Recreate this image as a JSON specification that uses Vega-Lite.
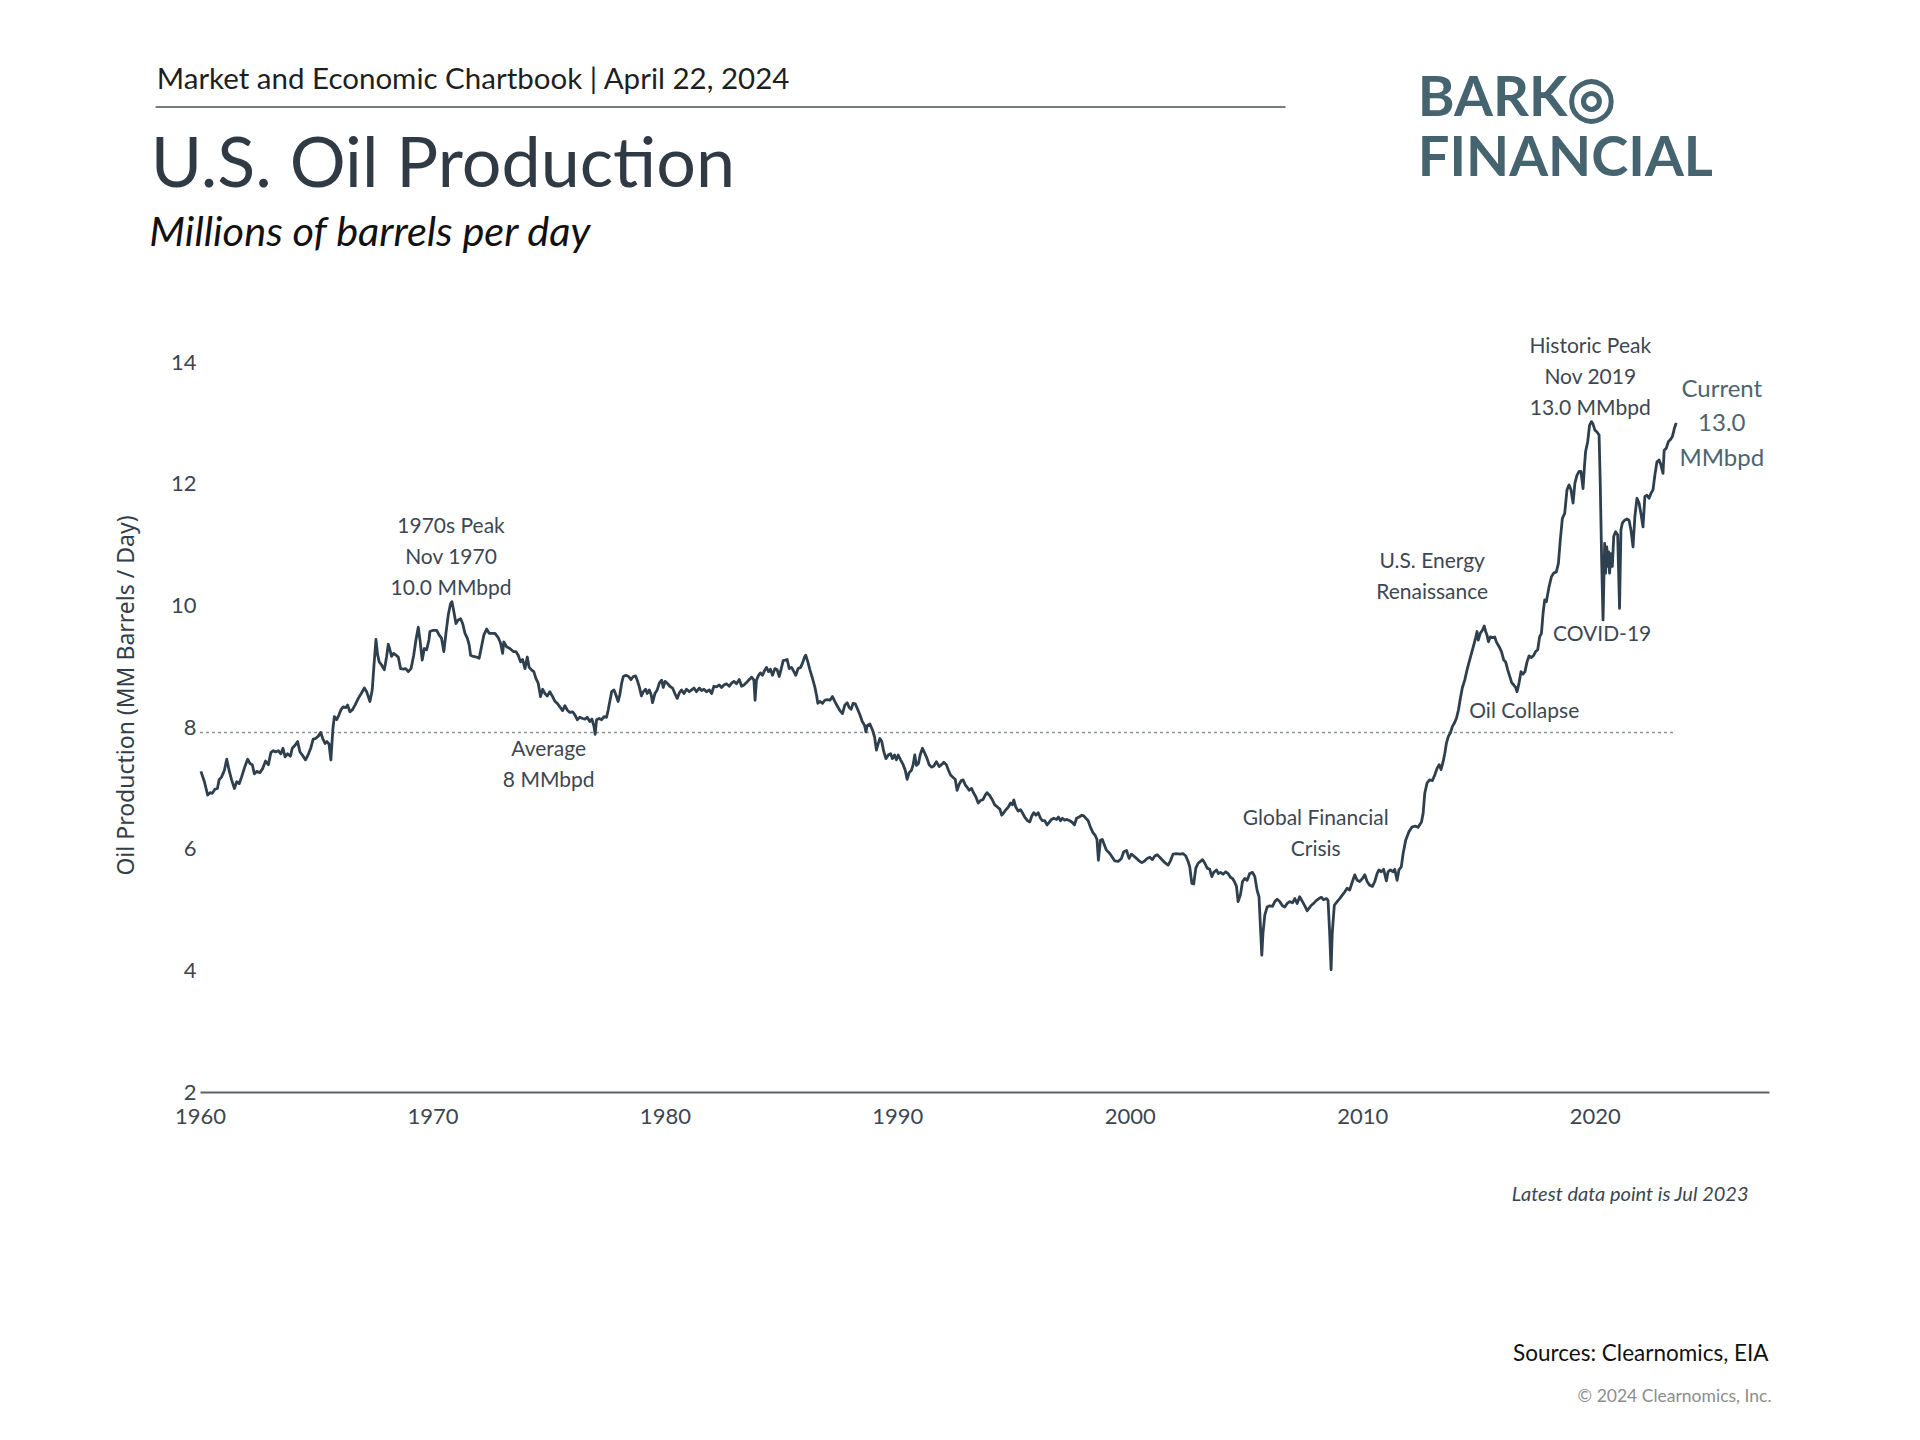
{
"$schema": "https://vega.github.io/schema/vega-lite/v6.json",
"width": 1569,
"height": 730,
"autosize": {"type": "none"},
"padding": {"left": 200, "top": 362, "right": 151, "bottom": 348},
"background": "#ffffff",
"config": {"view": {"stroke": null}, "font": "Lato"},
"datasets": {
"oil": [
{"t":1960.04,"v":7.27},{"t":1960.19,"v":7.10},{"t":1960.33,"v":6.88},{"t":1960.43,"v":6.92},{"t":1960.53,"v":6.91},{"t":1960.65,"v":6.98},{"t":1960.75,"v":6.99},{"t":1960.82,"v":7.13},{"t":1960.93,"v":7.18},{"t":1961.05,"v":7.29},{"t":1961.15,"v":7.47},{"t":1961.25,"v":7.29},{"t":1961.36,"v":7.13},{"t":1961.48,"v":6.99},{"t":1961.58,"v":7.10},{"t":1961.69,"v":7.07},{"t":1961.79,"v":7.18},{"t":1961.94,"v":7.36},{"t":1962.05,"v":7.47},{"t":1962.15,"v":7.40},{"t":1962.25,"v":7.38},{"t":1962.34,"v":7.23},{"t":1962.44,"v":7.27},{"t":1962.58,"v":7.25},{"t":1962.70,"v":7.32},{"t":1962.82,"v":7.44},{"t":1962.94,"v":7.38},{"t":1963.05,"v":7.58},{"t":1963.15,"v":7.61},{"t":1963.25,"v":7.59},{"t":1963.37,"v":7.61},{"t":1963.48,"v":7.56},{"t":1963.57,"v":7.65},{"t":1963.66,"v":7.51},{"t":1963.77,"v":7.56},{"t":1963.89,"v":7.52},{"t":1963.97,"v":7.65},{"t":1964.09,"v":7.70},{"t":1964.20,"v":7.76},{"t":1964.30,"v":7.59},{"t":1964.40,"v":7.54},{"t":1964.54,"v":7.46},{"t":1964.66,"v":7.55},{"t":1964.77,"v":7.66},{"t":1964.87,"v":7.80},{"t":1964.97,"v":7.81},{"t":1965.09,"v":7.85},{"t":1965.19,"v":7.91},{"t":1965.28,"v":7.81},{"t":1965.38,"v":7.73},{"t":1965.46,"v":7.76},{"t":1965.55,"v":7.72},{"t":1965.63,"v":7.46},{"t":1965.72,"v":7.98},{"t":1965.78,"v":8.17},{"t":1965.88,"v":8.12},{"t":1965.98,"v":8.20},{"t":1966.06,"v":8.28},{"t":1966.16,"v":8.33},{"t":1966.27,"v":8.32},{"t":1966.35,"v":8.36},{"t":1966.45,"v":8.25},{"t":1966.55,"v":8.28},{"t":1966.67,"v":8.36},{"t":1966.81,"v":8.47},{"t":1966.95,"v":8.56},{"t":1967.07,"v":8.64},{"t":1967.17,"v":8.58},{"t":1967.31,"v":8.42},{"t":1967.41,"v":8.61},{"t":1967.48,"v":8.99},{"t":1967.57,"v":9.44},{"t":1967.64,"v":9.19},{"t":1967.71,"v":9.07},{"t":1967.81,"v":9.02},{"t":1967.93,"v":8.94},{"t":1968.03,"v":9.16},{"t":1968.10,"v":9.36},{"t":1968.17,"v":9.27},{"t":1968.24,"v":9.16},{"t":1968.33,"v":9.21},{"t":1968.43,"v":9.18},{"t":1968.53,"v":9.15},{"t":1968.63,"v":8.96},{"t":1968.75,"v":8.95},{"t":1968.85,"v":8.96},{"t":1968.96,"v":8.91},{"t":1969.08,"v":8.96},{"t":1969.19,"v":9.17},{"t":1969.29,"v":9.43},{"t":1969.39,"v":9.64},{"t":1969.48,"v":9.38},{"t":1969.56,"v":9.10},{"t":1969.65,"v":9.29},{"t":1969.75,"v":9.27},{"t":1969.85,"v":9.43},
{"t":1969.89,"v":9.57},{"t":1970.03,"v":9.59},{"t":1970.18,"v":9.59},{"t":1970.29,"v":9.51},{"t":1970.39,"v":9.46},{"t":1970.49,"v":9.24},{"t":1970.58,"v":9.54},{"t":1970.68,"v":9.84},{"t":1970.78,"v":10.03},{"t":1970.84,"v":10.06},{"t":1970.92,"v":9.90},{"t":1971.01,"v":9.70},{"t":1971.11,"v":9.76},{"t":1971.21,"v":9.78},{"t":1971.30,"v":9.70},{"t":1971.40,"v":9.54},{"t":1971.50,"v":9.46},{"t":1971.58,"v":9.35},{"t":1971.64,"v":9.18},{"t":1971.76,"v":9.16},{"t":1971.90,"v":9.15},{"t":1972.01,"v":9.13},{"t":1972.11,"v":9.32},{"t":1972.21,"v":9.51},{"t":1972.33,"v":9.61},{"t":1972.44,"v":9.54},{"t":1972.56,"v":9.54},{"t":1972.69,"v":9.54},{"t":1972.83,"v":9.47},{"t":1972.93,"v":9.38},{"t":1973.02,"v":9.21},{"t":1973.07,"v":9.40},{"t":1973.19,"v":9.32},{"t":1973.33,"v":9.29},{"t":1973.48,"v":9.24},{"t":1973.59,"v":9.24},{"t":1973.69,"v":9.18},{"t":1973.79,"v":9.07},{"t":1973.88,"v":9.11},{"t":1973.98,"v":8.96},{"t":1974.08,"v":9.15},{"t":1974.16,"v":8.98},{"t":1974.26,"v":8.94},{"t":1974.36,"v":8.91},{"t":1974.45,"v":8.80},{"t":1974.55,"v":8.72},{"t":1974.65,"v":8.50},{"t":1974.74,"v":8.62},{"t":1974.84,"v":8.55},{"t":1974.94,"v":8.51},{"t":1975.05,"v":8.58},{"t":1975.17,"v":8.50},{"t":1975.27,"v":8.42},{"t":1975.37,"v":8.39},{"t":1975.48,"v":8.33},{"t":1975.60,"v":8.27},{"t":1975.70,"v":8.35},{"t":1975.80,"v":8.28},{"t":1975.91,"v":8.24},{"t":1976.03,"v":8.25},{"t":1976.13,"v":8.20},{"t":1976.23,"v":8.12},{"t":1976.34,"v":8.16},{"t":1976.46,"v":8.14},{"t":1976.56,"v":8.13},{"t":1976.66,"v":8.16},{"t":1976.77,"v":8.09},{"t":1976.86,"v":8.13},{"t":1976.95,"v":8.01},{"t":1977.00,"v":7.88},{"t":1977.06,"v":8.12},{"t":1977.17,"v":8.14},{"t":1977.28,"v":8.12},{"t":1977.38,"v":8.17},{"t":1977.49,"v":8.16},{"t":1977.56,"v":8.28},{"t":1977.63,"v":8.42},{"t":1977.71,"v":8.58},{"t":1977.81,"v":8.61},{"t":1977.89,"v":8.53},{"t":1977.99,"v":8.42},{"t":1978.06,"v":8.53},{"t":1978.14,"v":8.72},{"t":1978.21,"v":8.83},{"t":1978.32,"v":8.85},{"t":1978.44,"v":8.83},{"t":1978.54,"v":8.78},{"t":1978.64,"v":8.83},{"t":1978.74,"v":8.84},{"t":1978.81,"v":8.77},{"t":1978.90,"v":8.66},{"t":1978.99,"v":8.51},{"t":1979.07,"v":8.58},{"t":1979.17,"v":8.62},{"t":1979.24,"v":8.55},{"t":1979.33,"v":8.61},{"t":1979.41,"v":8.53},{"t":1979.47,"v":8.40},{"t":1979.57,"v":8.55},{"t":1979.67,"v":8.61},{"t":1979.76,"v":8.72},{"t":1979.86,"v":8.77},{"t":1979.93,"v":8.65},{"t":1980.01,"v":8.75},{"t":1980.10,"v":8.72},{"t":1980.21,"v":8.67},{"t":1980.33,"v":8.64},{"t":1980.43,"v":8.55},{"t":1980.53,"v":8.47},{"t":1980.62,"v":8.56},{"t":1980.72,"v":8.61},{"t":1980.82,"v":8.55},{"t":1980.93,"v":8.62},{"t":1981.05,"v":8.58},{"t":1981.15,"v":8.61},{"t":1981.25,"v":8.64},{"t":1981.36,"v":8.58},{"t":1981.48,"v":8.64},{"t":1981.58,"v":8.60},{"t":1981.68,"v":8.62},{"t":1981.79,"v":8.58},{"t":1981.91,"v":8.61},{"t":1982.01,"v":8.55},{"t":1982.11,"v":8.67},{"t":1982.22,"v":8.66},{"t":1982.34,"v":8.69},{"t":1982.44,"v":8.65},{"t":1982.54,"v":8.69},{"t":1982.65,"v":8.71},{"t":1982.77,"v":8.67},{"t":1982.87,"v":8.72},{"t":1982.97,"v":8.75},{"t":1983.08,"v":8.71},{"t":1983.20,"v":8.78},{"t":1983.30,"v":8.67},{"t":1983.40,"v":8.69},{"t":1983.51,"v":8.73},{"t":1983.63,"v":8.78},{"t":1983.73,"v":8.82},{"t":1983.83,"v":8.77},{"t":1983.88,"v":8.44},{"t":1983.94,"v":8.77},{"t":1984.03,"v":8.85},{"t":1984.11,"v":8.89},{"t":1984.20,"v":8.85},{"t":1984.29,"v":8.93},{"t":1984.37,"v":8.98},{"t":1984.46,"v":8.91},{"t":1984.54,"v":8.95},{"t":1984.63,"v":8.85},{"t":1984.73,"v":8.96},{"t":1984.83,"v":8.94},{"t":1984.92,"v":8.83},{"t":1985.02,"v":8.98},{"t":1985.09,"v":9.09},{"t":1985.18,"v":9.10},{"t":1985.26,"v":9.11},{"t":1985.35,"v":8.96},{"t":1985.45,"v":8.98},{"t":1985.55,"v":8.91},{"t":1985.63,"v":8.85},{"t":1985.73,"v":8.96},{"t":1985.84,"v":8.98},{"t":1985.92,"v":9.05},{"t":1986.01,"v":9.15},{"t":1986.06,"v":9.18},{"t":1986.15,"v":9.07},{"t":1986.24,"v":8.94},{"t":1986.35,"v":8.80},{"t":1986.45,"v":8.66},{"t":1986.52,"v":8.53},{"t":1986.58,"v":8.39},{"t":1986.67,"v":8.42},{"t":1986.78,"v":8.39},{"t":1986.88,"v":8.44},
{"t":1986.98,"v":8.45},{"t":1987.10,"v":8.44},{"t":1987.21,"v":8.50},{"t":1987.31,"v":8.42},{"t":1987.41,"v":8.35},{"t":1987.53,"v":8.27},{"t":1987.64,"v":8.22},{"t":1987.74,"v":8.36},{"t":1987.84,"v":8.40},{"t":1987.93,"v":8.32},{"t":1988.01,"v":8.29},{"t":1988.10,"v":8.39},{"t":1988.19,"v":8.38},{"t":1988.27,"v":8.31},{"t":1988.39,"v":8.20},{"t":1988.49,"v":8.09},{"t":1988.59,"v":8.03},{"t":1988.65,"v":7.92},{"t":1988.70,"v":8.02},{"t":1988.82,"v":8.05},{"t":1988.93,"v":7.95},{"t":1989.02,"v":7.84},{"t":1989.10,"v":7.62},{"t":1989.18,"v":7.73},{"t":1989.25,"v":7.81},{"t":1989.33,"v":7.76},{"t":1989.42,"v":7.59},{"t":1989.51,"v":7.48},{"t":1989.61,"v":7.54},{"t":1989.71,"v":7.56},{"t":1989.79,"v":7.48},{"t":1989.88,"v":7.54},{"t":1989.96,"v":7.46},{"t":1990.04,"v":7.54},{"t":1990.14,"v":7.46},{"t":1990.25,"v":7.38},{"t":1990.34,"v":7.29},{"t":1990.42,"v":7.14},{"t":1990.51,"v":7.25},{"t":1990.61,"v":7.29},{"t":1990.68,"v":7.38},{"t":1990.75,"v":7.54},{"t":1990.82,"v":7.37},{"t":1990.91,"v":7.40},{"t":1990.98,"v":7.54},{"t":1991.08,"v":7.65},{"t":1991.18,"v":7.57},{"t":1991.28,"v":7.48},{"t":1991.37,"v":7.38},{"t":1991.47,"v":7.34},{"t":1991.57,"v":7.36},{"t":1991.68,"v":7.43},{"t":1991.80,"v":7.35},{"t":1991.90,"v":7.38},{"t":1992.00,"v":7.42},{"t":1992.11,"v":7.38},{"t":1992.20,"v":7.29},{"t":1992.29,"v":7.21},{"t":1992.40,"v":7.17},{"t":1992.49,"v":7.14},{"t":1992.57,"v":6.96},{"t":1992.66,"v":7.06},{"t":1992.75,"v":7.12},{"t":1992.83,"v":7.13},{"t":1992.92,"v":7.05},{"t":1993.00,"v":7.01},{"t":1993.09,"v":6.96},{"t":1993.19,"v":6.99},{"t":1993.29,"v":6.91},{"t":1993.38,"v":6.85},{"t":1993.48,"v":6.75},{"t":1993.58,"v":6.79},{"t":1993.69,"v":6.81},{"t":1993.78,"v":6.88},{"t":1993.86,"v":6.92},{"t":1993.98,"v":6.87},{"t":1994.09,"v":6.80},{"t":1994.19,"v":6.72},{"t":1994.29,"v":6.69},{"t":1994.41,"v":6.65},{"t":1994.49,"v":6.55},{"t":1994.58,"v":6.59},{"t":1994.67,"v":6.64},{"t":1994.77,"v":6.68},{"t":1994.87,"v":6.75},{"t":1994.95,"v":6.72},{"t":1995.01,"v":6.80},{"t":1995.10,"v":6.68},{"t":1995.20,"v":6.62},{"t":1995.30,"v":6.64},{"t":1995.38,"v":6.59},{"t":1995.48,"v":6.52},{"t":1995.60,"v":6.46},{"t":1995.70,"v":6.44},{"t":1995.79,"v":6.54},{"t":1995.87,"v":6.59},{"t":1995.96,"v":6.55},{"t":1996.06,"v":6.59},{"t":1996.16,"v":6.50},{"t":1996.24,"v":6.46},{"t":1996.34,"v":6.46},{"t":1996.44,"v":6.39},{"t":1996.53,"v":6.43},{"t":1996.63,"v":6.48},{"t":1996.73,"v":6.50},{"t":1996.85,"v":6.48},{"t":1996.93,"v":6.52},{"t":1997.02,"v":6.46},{"t":1997.10,"v":6.50},{"t":1997.20,"v":6.47},{"t":1997.30,"v":6.48},{"t":1997.42,"v":6.46},{"t":1997.53,"v":6.43},{"t":1997.62,"v":6.39},{"t":1997.71,"v":6.50},{"t":1997.82,"v":6.52},{"t":1997.94,"v":6.55},{"t":1998.02,"v":6.54},{"t":1998.11,"v":6.50},{"t":1998.21,"v":6.46},{"t":1998.31,"v":6.35},{"t":1998.42,"v":6.26},{"t":1998.51,"v":6.22},{"t":1998.59,"v":6.15},{"t":1998.65,"v":5.81},{"t":1998.74,"v":6.14},{"t":1998.82,"v":6.15},
{"t":1998.99,"v":5.98},{"t":1999.14,"v":5.92},{"t":1999.35,"v":5.80},{"t":1999.50,"v":5.79},{"t":1999.64,"v":5.84},{"t":1999.74,"v":5.95},{"t":1999.86,"v":5.97},{"t":1999.97,"v":5.84},{"t":2000.07,"v":5.91},{"t":2000.17,"v":5.88},{"t":2000.29,"v":5.84},{"t":2000.40,"v":5.80},{"t":2000.52,"v":5.77},{"t":2000.65,"v":5.80},{"t":2000.75,"v":5.84},{"t":2000.86,"v":5.86},{"t":2000.97,"v":5.82},{"t":2001.08,"v":5.88},{"t":2001.18,"v":5.90},{"t":2001.29,"v":5.86},{"t":2001.41,"v":5.81},{"t":2001.51,"v":5.77},{"t":2001.65,"v":5.73},{"t":2001.75,"v":5.80},{"t":2001.86,"v":5.91},{"t":2002.01,"v":5.92},{"t":2002.15,"v":5.91},{"t":2002.29,"v":5.92},{"t":2002.41,"v":5.88},{"t":2002.51,"v":5.79},{"t":2002.58,"v":5.70},{"t":2002.67,"v":5.43},{"t":2002.75,"v":5.42},{"t":2002.84,"v":5.68},{"t":2002.94,"v":5.76},{"t":2003.04,"v":5.79},{"t":2003.13,"v":5.82},{"t":2003.23,"v":5.76},{"t":2003.33,"v":5.68},{"t":2003.44,"v":5.66},{"t":2003.53,"v":5.54},{"t":2003.61,"v":5.61},{"t":2003.73,"v":5.65},{"t":2003.81,"v":5.59},{"t":2003.90,"v":5.61},{"t":2004.01,"v":5.58},{"t":2004.13,"v":5.62},{"t":2004.23,"v":5.59},{"t":2004.33,"v":5.53},{"t":2004.42,"v":5.51},{"t":2004.50,"v":5.46},{"t":2004.59,"v":5.38},{"t":2004.66,"v":5.13},{"t":2004.76,"v":5.24},{"t":2004.85,"v":5.46},{"t":2004.95,"v":5.51},{"t":2005.05,"v":5.48},{"t":2005.16,"v":5.59},{"t":2005.28,"v":5.61},{"t":2005.38,"v":5.54},{"t":2005.48,"v":5.31},{"t":2005.56,"v":5.21},{"t":2005.62,"v":4.72},{"t":2005.68,"v":4.25},{"t":2005.73,"v":4.61},{"t":2005.81,"v":4.91},{"t":2005.91,"v":5.04},{"t":2006.02,"v":5.06},{"t":2006.14,"v":5.05},{"t":2006.24,"v":5.13},{"t":2006.34,"v":5.17},{"t":2006.45,"v":5.13},{"t":2006.57,"v":5.06},{"t":2006.67,"v":5.04},{"t":2006.77,"v":5.10},{"t":2006.88,"v":5.13},{"t":2007.00,"v":5.11},{"t":2007.10,"v":5.18},{"t":2007.20,"v":5.10},{"t":2007.31,"v":5.21},{"t":2007.43,"v":5.13},{"t":2007.53,"v":5.06},{"t":2007.63,"v":4.98},{"t":2007.71,"v":5.02},{"t":2007.81,"v":5.07},{"t":2007.91,"v":5.10},{"t":2008.03,"v":5.15},{"t":2008.14,"v":5.18},{"t":2008.24,"v":5.20},{"t":2008.34,"v":5.16},{"t":2008.46,"v":5.18},{"t":2008.53,"v":5.15},{"t":2008.60,"v":4.61},{"t":2008.66,"v":4.01},{"t":2008.71,"v":4.61},{"t":2008.80,"v":5.07},{"t":2008.92,"v":5.13},{"t":2009.03,"v":5.18},{"t":2009.15,"v":5.24},{"t":2009.25,"v":5.29},{"t":2009.35,"v":5.35},{"t":2009.46,"v":5.32},{"t":2009.58,"v":5.46},{"t":2009.68,"v":5.57},{"t":2009.78,"v":5.48},{"t":2009.89,"v":5.46},{"t":2010.01,"v":5.51},{"t":2010.11,"v":5.57},{"t":2010.21,"v":5.46},{"t":2010.32,"v":5.40},{"t":2010.44,"v":5.38},{"t":2010.54,"v":5.46},{"t":2010.64,"v":5.59},{"t":2010.72,"v":5.65},{"t":2010.82,"v":5.62},{"t":2010.92,"v":5.66},{"t":2011.04,"v":5.47},{"t":2011.11,"v":5.62},{"t":2011.21,"v":5.65},{"t":2011.33,"v":5.62},{"t":2011.40,"v":5.66},{"t":2011.50,"v":5.48},{"t":2011.58,"v":5.65},{"t":2011.68,"v":5.70},{"t":2011.76,"v":5.92},{"t":2011.87,"v":6.14},{"t":2012.01,"v":6.28},{"t":2012.15,"v":6.36},{"t":2012.30,"v":6.37},{"t":2012.40,"v":6.35},
{"t":2012.55,"v":6.44},{"t":2012.62,"v":6.58},{"t":2012.69,"v":6.91},{"t":2012.79,"v":7.08},{"t":2012.90,"v":7.13},{"t":2013.02,"v":7.12},{"t":2013.12,"v":7.21},{"t":2013.22,"v":7.32},{"t":2013.31,"v":7.38},{"t":2013.39,"v":7.30},{"t":2013.48,"v":7.43},{"t":2013.55,"v":7.56},{"t":2013.62,"v":7.73},{"t":2013.71,"v":7.85},{"t":2013.79,"v":7.90},{"t":2013.88,"v":8.01},{"t":2013.96,"v":8.06},{"t":2014.05,"v":8.14},{"t":2014.14,"v":8.28},{"t":2014.22,"v":8.47},{"t":2014.31,"v":8.65},{"t":2014.41,"v":8.77},{"t":2014.51,"v":8.94},{"t":2014.60,"v":9.07},{"t":2014.70,"v":9.21},{"t":2014.80,"v":9.35},{"t":2014.88,"v":9.47},{"t":2014.94,"v":9.57},{"t":2014.99,"v":9.43},{"t":2015.08,"v":9.54},{"t":2015.17,"v":9.59},{"t":2015.25,"v":9.66},{"t":2015.31,"v":9.57},{"t":2015.37,"v":9.51},{"t":2015.43,"v":9.40},{"t":2015.51,"v":9.48},{"t":2015.63,"v":9.47},{"t":2015.70,"v":9.48},{"t":2015.77,"v":9.40},{"t":2015.89,"v":9.32},{"t":2015.99,"v":9.24},{"t":2016.09,"v":9.10},{"t":2016.17,"v":9.07},{"t":2016.26,"v":8.94},{"t":2016.34,"v":8.84},{"t":2016.43,"v":8.73},{"t":2016.52,"v":8.69},{"t":2016.60,"v":8.65},{"t":2016.66,"v":8.58},{"t":2016.75,"v":8.73},{"t":2016.83,"v":8.91},{"t":2016.92,"v":8.87},{"t":2017.00,"v":8.91},{"t":2017.09,"v":9.07},{"t":2017.18,"v":9.17},{"t":2017.28,"v":9.14},{"t":2017.38,"v":9.18},{"t":2017.46,"v":9.24},{"t":2017.55,"v":9.27},{"t":2017.63,"v":9.48},
{"t":2017.71,"v":9.54},{"t":2017.78,"v":9.87},{"t":2017.85,"v":10.09},{"t":2017.92,"v":10.06},{"t":2018.04,"v":10.31},{"t":2018.14,"v":10.47},{"t":2018.24,"v":10.53},{"t":2018.35,"v":10.55},{"t":2018.44,"v":10.69},{"t":2018.52,"v":11.07},{"t":2018.61,"v":11.43},{"t":2018.71,"v":11.51},{"t":2018.81,"v":11.90},{"t":2018.90,"v":11.98},{"t":2018.98,"v":11.90},{"t":2019.07,"v":11.68},{"t":2019.15,"v":12.01},{"t":2019.24,"v":12.14},{"t":2019.33,"v":12.20},{"t":2019.41,"v":12.20},{"t":2019.50,"v":11.92},{"t":2019.56,"v":12.28},{"t":2019.61,"v":12.53},{"t":2019.70,"v":12.69},{"t":2019.78,"v":12.96},{"t":2019.86,"v":13.02},{"t":2019.93,"v":12.98},{"t":2020.01,"v":12.88},{"t":2020.10,"v":12.85},{"t":2020.19,"v":12.80},{"t":2020.24,"v":12.01},{"t":2020.30,"v":10.75},{"t":2020.36,"v":9.76},{"t":2020.43,"v":11.02},{"t":2020.47,"v":10.53},{"t":2020.52,"v":10.96},{"t":2020.56,"v":10.64},{"t":2020.60,"v":10.88},{"t":2020.64,"v":10.53},{"t":2020.70,"v":10.85},{"t":2020.76,"v":10.64},{"t":2020.82,"v":11.13},{"t":2020.90,"v":11.21},{"t":2020.99,"v":11.16},{"t":2021.07,"v":9.95},{"t":2021.13,"v":11.24},{"t":2021.19,"v":11.35},{"t":2021.29,"v":11.40},{"t":2021.39,"v":11.42},{"t":2021.48,"v":11.40},{"t":2021.56,"v":11.24},{"t":2021.65,"v":10.96},{"t":2021.73,"v":11.46},{"t":2021.82,"v":11.76},{"t":2021.91,"v":11.68},{"t":2021.99,"v":11.51},{"t":2022.08,"v":11.29},{"t":2022.16,"v":11.79},{"t":2022.25,"v":11.81},{"t":2022.34,"v":11.76},{"t":2022.42,"v":11.84},{"t":2022.51,"v":11.90},{"t":2022.59,"v":12.14},{"t":2022.68,"v":12.36},{"t":2022.77,"v":12.39},{"t":2022.85,"v":12.31},{"t":2022.94,"v":12.17},{"t":2022.99,"v":12.55},{"t":2023.08,"v":12.58},{"t":2023.17,"v":12.69},{"t":2023.25,"v":12.72},{"t":2023.34,"v":12.77},{"t":2023.43,"v":12.91},{"t":2023.51,"v":13.00}
],
"avg": [{"t": 1960, "t2": 2023.45, "v": 7.91}],
"headrule": [{"t": 1958.09, "t2": 2006.7, "v": 18.19}],
"labels": [
{"kind": "note", "label": "1970s Peak\nNov 1970\n10.0 MMbpd", "t": 1970.8, "v": 11.29},
{"kind": "note", "label": "Average\n8 MMbpd", "t": 1975.0, "v": 7.63},
{"kind": "note", "label": "Global Financial\nCrisis", "t": 2008.0, "v": 6.48},
{"kind": "note", "label": "U.S. Energy\nRenaissance", "t": 2013.01, "v": 10.72},
{"kind": "note", "label": "Oil Collapse", "t": 2016.97, "v": 8.24},
{"kind": "note", "label": "COVID-19", "t": 2020.32, "v": 9.51},
{"kind": "note", "label": "Historic Peak\nNov 2019\n13.0 MMbpd", "t": 2019.81, "v": 14.25},
{"kind": "current", "label": "Current\n13.0\nMMbpd", "t": 2025.47, "v": 13.54},
{"kind": "header", "label": "Market and Economic Chartbook | April 22, 2024", "t": 1958.14, "v": 18.48},
{"kind": "title", "label": "U.S. Oil Production", "t": 1957.88, "v": 16.88},
{"kind": "subtitle", "label": "Millions of barrels per day", "t": 1957.82, "v": 15.9},
{"kind": "logo", "label": "BARK◎", "t": 2012.39, "v": 18.04},
{"kind": "logo", "label": "FINANCIAL", "t": 2012.39, "v": 17.05},
{"kind": "latest", "label": "Latest data point is Jul 2023", "t": 2026.62, "v": 0.3},
{"kind": "sources", "label": "Sources: Clearnomics, EIA", "t": 2027.48, "v": -2.3},
{"kind": "copyright", "label": "© 2024 Clearnomics, Inc.", "t": 2027.61, "v": -3.01}
]
},
"encoding": {
"x": {"field": "t", "type": "quantitative",
 "scale": {"domain": [1960, 2027.5], "nice": false, "zero": false},
 "axis": {"values": [1960, 1970, 1980, 1990, 2000, 2010, 2020], "format": "d", "title": null, "grid": false, "ticks": false, "domain": true, "domainColor": "#5c646b", "domainWidth": 2, "labelFont": "Lato", "labelFontSize": 22, "labelColor": "#3b4652", "labelPadding": 14, "labelFlush": false, "labelOverlap": false}},
"y": {"field": "v", "type": "quantitative",
 "scale": {"domain": [2, 14], "nice": false, "zero": false},
 "axis": {"values": [2, 4, 6, 8, 10, 12, 14], "title": "Oil Production (MM Barrels / Day)", "titleFont": "Noto Sans", "titleFontSize": 23, "titleFontWeight": "normal", "titleColor": "#333e48", "titleAngle": 270, "titleX": -74, "titleY": 333, "titleAlign": "center", "titleBaseline": "middle", "grid": false, "ticks": false, "domain": false, "labelFont": "Lato", "labelFontSize": 22, "labelColor": "#3b4652", "labelPadding": 4, "labelFlush": false, "labelOverlap": false}}
},
"layer": [
{"data": {"name": "avg"}, "mark": {"type": "rule", "color": "#8c959c", "strokeWidth": 1.6, "strokeDash": [3, 3]}, "encoding": {"x2": {"field": "t2"}}},
{"data": {"name": "oil"}, "mark": {"type": "line", "color": "#2e3f4d", "strokeWidth": 2.8, "strokeJoin": "round"}},
{"data": {"name": "headrule"}, "mark": {"type": "rule", "color": "#4a5058", "strokeWidth": 1.5}, "encoding": {"x2": {"field": "t2"}}},
{"data": {"name": "labels"}, "transform": [{"filter": "datum.kind === 'note'"}], "mark": {"type": "text", "font": "Lato", "fontSize": 21, "color": "#3d4752", "align": "center", "baseline": "middle", "lineBreak": "\n", "lineHeight": 31}, "encoding": {"text": {"field": "label"}}},
{"data": {"name": "labels"}, "transform": [{"filter": "datum.kind === 'current'"}], "mark": {"type": "text", "font": "Lato", "fontSize": 24, "color": "#4d6472", "align": "center", "baseline": "middle", "lineBreak": "\n", "lineHeight": 34.5}, "encoding": {"text": {"field": "label"}}},
{"data": {"name": "labels"}, "transform": [{"filter": "datum.kind === 'header'"}], "mark": {"type": "text", "font": "Lato", "fontSize": 29.5, "color": "#1f1f1f", "align": "left", "baseline": "alphabetic"}, "encoding": {"text": {"field": "label"}}},
{"data": {"name": "labels"}, "transform": [{"filter": "datum.kind === 'title'"}], "mark": {"type": "text", "font": "Lato", "fontSize": 70, "color": "#2f3a44", "align": "left", "baseline": "alphabetic"}, "encoding": {"text": {"field": "label"}}},
{"data": {"name": "labels"}, "transform": [{"filter": "datum.kind === 'subtitle'"}], "mark": {"type": "text", "font": "Lato", "fontSize": 41.5, "fontStyle": "italic", "color": "#111111", "align": "left", "baseline": "alphabetic"}, "encoding": {"text": {"field": "label"}}},
{"data": {"name": "labels"}, "transform": [{"filter": "datum.kind === 'logo'"}], "mark": {"type": "text", "font": "Lato", "fontSize": 56, "fontWeight": "bold", "color": "#466470", "align": "left", "baseline": "alphabetic"}, "encoding": {"text": {"field": "label"}}},
{"data": {"name": "labels"}, "transform": [{"filter": "datum.kind === 'latest'"}], "mark": {"type": "text", "font": "Lato", "fontSize": 20, "fontStyle": "italic", "color": "#3b4652", "align": "right", "baseline": "middle"}, "encoding": {"text": {"field": "label"}}},
{"data": {"name": "labels"}, "transform": [{"filter": "datum.kind === 'sources'"}], "mark": {"type": "text", "font": "Lato", "fontSize": 22.5, "color": "#111111", "align": "right", "baseline": "middle"}, "encoding": {"text": {"field": "label"}}},
{"data": {"name": "labels"}, "transform": [{"filter": "datum.kind === 'copyright'"}], "mark": {"type": "text", "font": "Lato", "fontSize": 17.5, "color": "#8d8d8d", "align": "right", "baseline": "middle"}, "encoding": {"text": {"field": "label"}}}
]
}
